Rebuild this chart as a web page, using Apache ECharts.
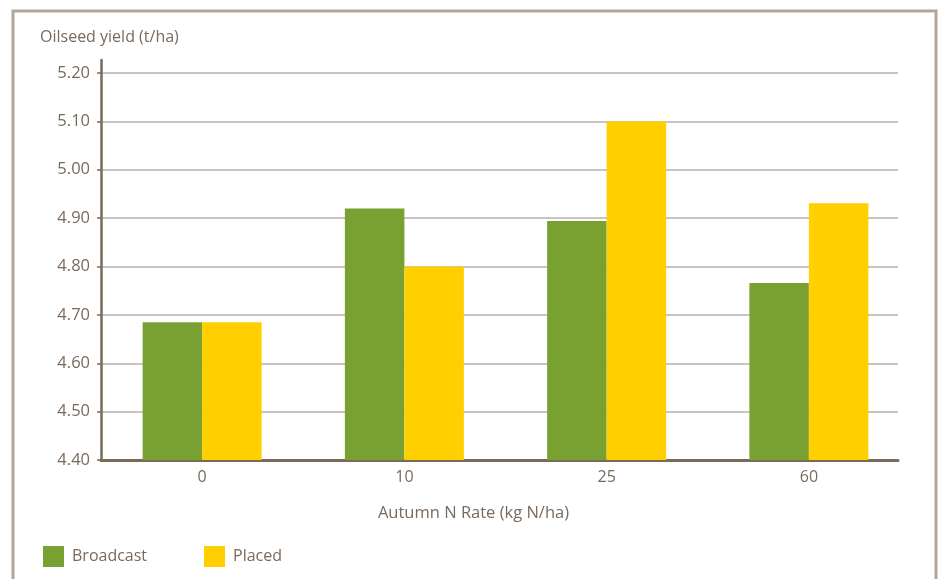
<!DOCTYPE html>
<html>
<head>
<meta charset="utf-8">
<script src="https://cdn.jsdelivr.net/npm/echarts@6/dist/echarts.min.js"></script>
<style>
html,body{margin:0;padding:0;background:#fff;}
#chart{width:941px;height:579px;}
</style>
</head>
<body>
<div id="chart"></div>
<script>
var categories = ['0', '10', '25', '60'];
var broadcast = [4.685, 4.92, 4.894, 4.766];
var placed = [4.685, 4.80, 5.10, 4.931];
var yMin = 4.4, yMax = 5.2, yStep = 0.1;
var seriesNames = ['Broadcast', 'Placed'];
var yTitle = 'Oilseed yield (t/ha)';
var xTitle = 'Autumn N Rate (kg N/ha)';

var FONT = '"Open Sans", sans-serif';
var TXT = '#786a5c';
var AXIS = '#7b6a57';
var GRIDC = '#bab1a8';
var GREEN = '#78a132';
var YELLOW = '#ffcf00';

var chart = echarts.init(document.getElementById('chart'), null, {renderer: 'canvas'});
chart.setOption({
  animation: false,
  backgroundColor: '#fff',
  textStyle: {fontFamily: FONT},
  title: {
    text: yTitle, left: 35, top: 24,
    textStyle: {fontFamily: FONT, fontSize: 16, fontWeight: 'normal', color: TXT}
  },
  graphic: [{
    type: 'rect', shape: {x: 13, y: 11, width: 923, height: 620},
    style: {fill: 'none', stroke: '#b1a598', lineWidth: 3}, silent: true
  }],
  legend: [
    {data: [seriesNames[0]], left: 38, top: 541, itemWidth: 21, itemHeight: 21, icon: 'rect',
     textStyle: {fontFamily: FONT, fontSize: 16, color: TXT, padding: [0, 0, 0, 3]}},
    {data: [seriesNames[1]], left: 199, top: 541, itemWidth: 21, itemHeight: 21, icon: 'rect',
     textStyle: {fontFamily: FONT, fontSize: 16, color: TXT, padding: [0, 0, 0, 3]}}
  ],
  grid: [
    {left: 101, right: 43, top: 73, bottom: 119},
    {left: 101, right: 31, top: 60, bottom: 119}
  ],
  xAxis: [
    {type: 'category', gridIndex: 0, data: categories,
     axisLine: {show: true, lineStyle: {color: AXIS, width: 3}},
     axisTick: {show: false}, axisLabel: {show: false}, splitLine: {show: false}},
    {type: 'category', gridIndex: 1, data: categories,
     axisLine: {show: false}, axisTick: {show: false},
     axisLabel: {color: TXT, fontSize: 16, fontFamily: FONT, margin: 9},
     name: xTitle, nameLocation: 'middle', nameGap: 45,
     nameTextStyle: {color: TXT, fontSize: 16.5, fontFamily: FONT, padding: [0, 64, 0, 0]}}
  ],
  yAxis: [
    {type: 'value', gridIndex: 0, min: yMin, max: yMax, interval: yStep,
     axisLine: {show: false},
     axisTick: {show: true, length: 4, lineStyle: {color: AXIS, width: 1.5}},
     axisLabel: {color: TXT, fontSize: 16.5, fontFamily: FONT, margin: 11,
       formatter: function (v) { return v.toFixed(2); }},
     splitLine: {show: true, lineStyle: {color: GRIDC, width: 1.5}}},
    {type: 'value', gridIndex: 1, min: yMin, max: yMax + 13 / 48.375 * yStep,
     axisLine: {show: true, lineStyle: {color: AXIS, width: 2.5}},
     axisTick: {show: false}, axisLabel: {show: false}, splitLine: {show: false}}
  ],
  series: [
    {name: seriesNames[0], type: 'bar', xAxisIndex: 1, yAxisIndex: 1, data: broadcast,
     barWidth: 59.5, barGap: '0%', itemStyle: {color: GREEN}},
    {name: seriesNames[1], type: 'bar', xAxisIndex: 1, yAxisIndex: 1, data: placed,
     barWidth: 59.5, barGap: '0%', itemStyle: {color: YELLOW}}
  ]
});
</script>
</body>
</html>
